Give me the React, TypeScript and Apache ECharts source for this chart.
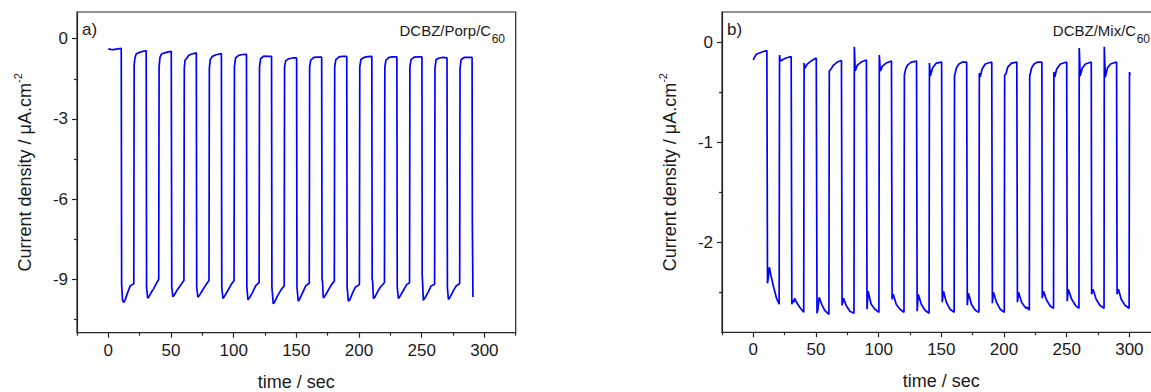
import React, { useEffect, useRef } from "react";
import * as echarts from "echarts";

const xMajorTicks = [0, 50, 100, 150, 200, 250, 300];
const xMinorTicks = [-25, 25, 75, 125, 175, 225, 275, 325];
const porpYMajor = [-9, -6, -3, 0];
const porpYMinor = [-10.5, -7.5, -4.5, -1.5];
const mixYMajor = [-2, -1, 0];
const mixYMinor = [-2.5, -1.5, -0.5];

const xLabel = "time / sec";
const yLabelRich = "{a|Current density / μA.cm}{sup|-2}";
const panelA = "a)";
const panelB = "b)";
const sampleA = "DCBZ/Porp/C";
const sampleB = "DCBZ/Mix/C";
const subscript = "60";

// time (s), current density (µA/cm²) – DCBZ/Porp/C60
const porpTrace: [number, number][] = [
  [0, -0.38], [2, -0.4], [4, -0.41], [6.5, -0.39], [9, -0.37], [10.3, -0.36],
  [10.6, -9.2], [11.3, -9.78], [12.2, -9.87], [13.2, -9.8], [15.4, -9.5], [17.5, -9.25], [19, -9.2], [20.3, -9.18],
  [20.6, -1.0], [21.2, -0.72], [22.3, -0.56], [25, -0.51], [28.5, -0.46], [30.2, -0.45],
  [30.5, -9.3], [31.4, -9.71], [32.4, -9.65], [34.9, -9.44], [36.1, -9.36], [38, -9.18], [40.2, -9.0],
  [40.5, -1.05], [41.2, -0.7], [42.5, -0.57], [45, -0.53], [48, -0.49], [50.2, -0.47],
  [50.6, -9.3], [51.5, -9.65], [52.5, -9.6], [55, -9.4], [58, -9.2], [60.3, -9.05],
  [60.6, -1.1], [61.2, -0.8], [62.5, -0.74], [64, -0.63], [66, -0.58], [70.2, -0.53],
  [70.5, -9.3], [71.4, -9.67], [72.4, -9.62], [75, -9.42], [78, -9.2], [80.3, -9.05],
  [80.6, -1.1], [81.3, -0.78], [83, -0.66], [86, -0.6], [90.2, -0.56],
  [90.5, -9.3], [91.4, -9.72], [92.4, -9.66], [95, -9.45], [98, -9.2], [100.3, -9.05],
  [100.6, -1.05], [101.5, -0.72], [104, -0.62], [107, -0.59], [110.2, -0.58],
  [110.5, -9.3], [111.4, -9.77], [112.5, -9.7], [115, -9.5], [117.5, -9.25], [120.3, -9.12],
  [120.6, -1.05], [121.5, -0.75], [124, -0.65], [127, -0.66], [130.2, -0.66],
  [130.5, -9.3], [131.6, -9.92], [132.6, -9.86], [135, -9.62], [138, -9.38], [140.3, -9.25],
  [140.6, -1.05], [141.5, -0.82], [144, -0.75], [147, -0.72], [150.2, -0.72],
  [150.5, -9.3], [151.5, -9.82], [152.5, -9.75], [155, -9.5], [157.5, -9.25], [160.3, -9.15],
  [160.6, -1.05], [161.5, -0.8], [164, -0.7], [167, -0.69], [170.2, -0.69],
  [170.5, -9.0], [170.9, -9.1], [171.5, -9.7], [172.5, -9.65], [175, -9.45], [178, -9.2], [180.3, -9.07],
  [180.6, -1.05], [181.5, -0.78], [184, -0.68], [187, -0.66], [190.2, -0.66],
  [190.5, -9.3], [191.5, -9.82], [192.5, -9.78], [195, -9.5], [197, -9.3], [200.3, -9.2],
  [200.6, -1.05], [201.5, -0.78], [204, -0.7], [207, -0.67], [210.2, -0.66],
  [210.5, -9.0], [210.9, -9.1], [211.5, -9.72], [212.5, -9.68], [215, -9.45], [217, -9.3], [220.3, -9.12],
  [220.6, -1.05], [221.5, -0.8], [224, -0.7], [227, -0.68], [230.2, -0.68],
  [230.5, -9.3], [231.4, -9.72], [232.4, -9.66], [235, -9.45], [238, -9.2], [240.3, -9.13],
  [240.6, -1.05], [241.5, -0.78], [244, -0.69], [247, -0.68], [250.2, -0.68],
  [250.4, -8.82], [250.8, -9.2], [251.3, -9.79], [252.3, -9.72], [255, -9.5], [257.5, -9.25], [260.3, -9.19],
  [260.6, -1.1], [261.5, -0.78], [264, -0.72], [267, -0.7], [270.2, -0.72],
  [270.5, -9.3], [271.3, -9.75], [272.3, -9.7], [275, -9.45], [277.5, -9.25], [280.3, -9.16],
  [280.6, -1.1], [281.5, -0.78], [284, -0.7], [287, -0.7], [290.2, -0.7],
  [290.4, -6.82], [290.9, -9.66],
];

// time (s), current density (µA/cm²) – DCBZ/Mix/C60
const mixTrace: [number, number][] = [
  [0, -0.18], [1, -0.15], [2.6, -0.12], [5, -0.11], [8, -0.095], [10.8, -0.085],
  [11.3, -2.41], [12, -2.35], [12.8, -2.25], [14, -2.33], [16, -2.44], [18.5, -2.56], [20.6, -2.62],
  [20.9, -0.13], [21.6, -0.19], [23, -0.18], [26, -0.16], [30.2, -0.145],
  [30.7, -2.62], [31.4, -2.58], [32.3, -2.6], [32.9, -2.56], [34.5, -2.6], [37, -2.65], [40.2, -2.7],
  [40.5, -0.21], [41.2, -0.26], [43, -0.22], [46, -0.19], [50.2, -0.16],
  [50.8, -2.71], [51.4, -2.68], [52.5, -2.55], [54.5, -2.62], [57, -2.68], [60.3, -2.72],
  [60.6, -0.29], [62, -0.27], [64, -0.23], [67, -0.2], [70.3, -0.185],
  [70.8, -2.63], [72, -2.56], [74, -2.63], [77, -2.69], [80.3, -2.71],
  [80.6, -0.047], [81.3, -0.29], [83, -0.23], [86, -0.2], [90.2, -0.18],
  [90.7, -2.67], [91.6, -2.49], [94, -2.62], [97, -2.67], [100.2, -2.7],
  [100.5, -0.13], [101.3, -0.29], [103, -0.24], [106, -0.21], [110.2, -0.19],
  [110.7, -2.57], [111.6, -2.52], [114, -2.62], [117, -2.67], [120.2, -2.7],
  [120.5, -0.33], [121.5, -0.27], [123, -0.23], [126, -0.2], [130.2, -0.19],
  [130.7, -2.69], [131.6, -2.52], [134, -2.62], [137, -2.68], [140.2, -2.71],
  [140.5, -0.21], [141.2, -0.34], [143, -0.26], [146, -0.21], [150.2, -0.2],
  [150.7, -2.6], [151.7, -2.49], [154, -2.6], [157, -2.67], [160.2, -2.7],
  [160.5, -0.34], [162, -0.26], [164, -0.22], [167, -0.2], [170.2, -0.2],
  [170.7, -2.63], [171.6, -2.51], [174, -2.62], [177, -2.68], [180, -2.7],
  [180.3, -0.31], [181, -0.35], [182.5, -0.27], [185, -0.22], [190.2, -0.2],
  [190.7, -2.61], [191.5, -2.5], [194, -2.6], [197, -2.67], [200.2, -2.7],
  [200.5, -0.33], [201.5, -0.32], [203, -0.25], [206, -0.21], [210.2, -0.2],
  [210.7, -2.6], [211.6, -2.5], [214, -2.6], [217.5, -2.66], [218.5, -2.65], [220.2, -2.68],
  [220.5, -0.34], [222, -0.26], [224, -0.22], [227, -0.2], [230.2, -0.2],
  [230.5, -2.56], [231.5, -2.49], [234, -2.58], [237, -2.64], [239.5, -2.66],
  [239.8, -0.3], [240.5, -0.35], [242, -0.27], [245, -0.22], [250, -0.2],
  [250.4, -2.59], [251.3, -2.47], [254, -2.57], [257, -2.63], [259.8, -2.66],
  [260, -0.06], [260.8, -0.34], [262.5, -0.26], [265, -0.22], [269.6, -0.2],
  [269.9, -2.52], [271, -2.47], [273.5, -2.57], [276.5, -2.63], [279.8, -2.66],
  [280, -0.047], [280.8, -0.35], [282.5, -0.26], [285, -0.22], [289.8, -0.2],
  [290.2, -2.52], [291.3, -2.47], [293.5, -2.57], [296.5, -2.63], [299.8, -2.66],
  [300.1, -0.3], [300.5, -0.33],
];

const FONT = 'Arial, "Liberation Sans", sans-serif';
const AXIS = "#262626";
const TEXT = "#1a1a1a";
const LINE = "#0000ff";

function xAxesFor(gridIndex: number) {
  return [
    {
      type: "value", gridIndex, min: -25, max: 325, position: "bottom",
      axisLine: { show: true, onZero: false, lineStyle: { color: AXIS, width: 1.2 } },
      axisTick: { show: true, inside: false, length: 5, customValues: xMajorTicks, lineStyle: { color: AXIS, width: 1.2 } },
      axisLabel: { show: true, customValues: xMajorTicks, margin: 9, fontSize: 17, color: TEXT, fontFamily: FONT },
      splitLine: { show: false },
      name: xLabel, nameLocation: "middle", nameGap: 40,
      nameTextStyle: { fontSize: 18, lineHeight: 18, color: TEXT, fontFamily: FONT },
    },
    {
      type: "value", gridIndex, min: -25, max: 325, position: "bottom",
      axisLine: { show: false, onZero: false },
      axisTick: { show: true, inside: false, length: 3, customValues: xMinorTicks, lineStyle: { color: AXIS, width: 1.2 } },
      axisLabel: { show: false },
      splitLine: { show: false },
    },
  ];
}

function yAxesFor(gridIndex: number, min: number, max: number, major: number[], minor: number[]) {
  return [
    {
      type: "value", gridIndex, min, max, position: "left",
      axisLine: { show: true, onZero: false, lineStyle: { color: AXIS, width: 1.2 } },
      axisTick: { show: true, inside: false, length: 5, customValues: major, lineStyle: { color: AXIS, width: 1.2 } },
      axisLabel: { show: true, customValues: major, margin: 9, fontSize: 17, color: TEXT, fontFamily: FONT },
      splitLine: { show: false },
      name: yLabelRich, nameLocation: "middle", nameGap: 43,
      nameTextStyle: {
        color: TEXT, fontFamily: FONT,
        rich: {
          a: { fontSize: 18, color: TEXT, fontFamily: FONT, lineHeight: 18 },
          sup: { fontSize: 11, color: TEXT, fontFamily: FONT, lineHeight: 11, padding: [0, 0, 14, 0] },
        },
      },
    },
    {
      type: "value", gridIndex, min, max, position: "left",
      axisLine: { show: false, onZero: false },
      axisTick: { show: true, inside: false, length: 3, customValues: minor, lineStyle: { color: AXIS, width: 1.2 } },
      axisLabel: { show: false },
      splitLine: { show: false },
    },
  ];
}

function panelTexts(plotLeft: number, plotRight: number, letter: string, sample: string) {
  return [
    { type: "text", x: plotLeft + 5, y: 29, style: { text: letter, fontSize: 17, fontFamily: FONT, fill: TEXT, textVerticalAlign: "middle", textAlign: "left" } },
    { type: "text", x: plotRight - 24.5, y: 30.5, style: { text: sample, fontSize: 15, fontFamily: FONT, fill: TEXT, textVerticalAlign: "middle", textAlign: "right" } },
    { type: "text", x: plotRight - 24, y: 38.5, style: { text: subscript, fontSize: 12, fontFamily: FONT, fill: TEXT, textVerticalAlign: "middle", textAlign: "left" } },
  ];
}

export default function App() {
  const ref = useRef<HTMLDivElement>(null);
  useEffect(() => {
    if (!ref.current) return;
    const chart = echarts.init(ref.current, undefined, { renderer: "svg" });
    const gridW = 438.7;
    const leftA = 77;
    const leftB = 722;
    const option: any = {
      animation: false,
      backgroundColor: "#ffffff",
      grid: [
        { left: leftA, top: 12, width: gridW, height: 320.7, containLabel: false, outerBoundsMode: "none", show: true, borderColor: AXIS, borderWidth: 1.2, backgroundColor: "transparent" },
        { left: leftB, top: 12, width: gridW, height: 320.3, containLabel: false, outerBoundsMode: "none", show: true, borderColor: AXIS, borderWidth: 1.2, backgroundColor: "transparent" },
      ],
      xAxis: [...xAxesFor(0), ...xAxesFor(1)],
      yAxis: [
        ...yAxesFor(0, -11, 1, porpYMajor, porpYMinor),
        ...yAxesFor(1, -2.9, 0.3, mixYMajor, mixYMinor),
      ],
      series: [
        { type: "line", xAxisIndex: 0, yAxisIndex: 0, data: porpTrace, showSymbol: false, symbol: "none", lineStyle: { color: LINE, width: 1.7 }, silent: true },
        { type: "line", xAxisIndex: 2, yAxisIndex: 2, data: mixTrace, showSymbol: false, symbol: "none", lineStyle: { color: LINE, width: 1.7 }, silent: true },
      ],
      graphic: [
        ...panelTexts(leftA, leftA + gridW, panelA, sampleA),
        ...panelTexts(leftB, leftB + gridW, panelB, sampleB),
      ],
    };
    chart.setOption(option);
    return () => chart.dispose();
  }, []);
  return <div ref={ref} style={{ position: "fixed", left: 0, top: 0, width: 1151, height: 392 }} />;
}
